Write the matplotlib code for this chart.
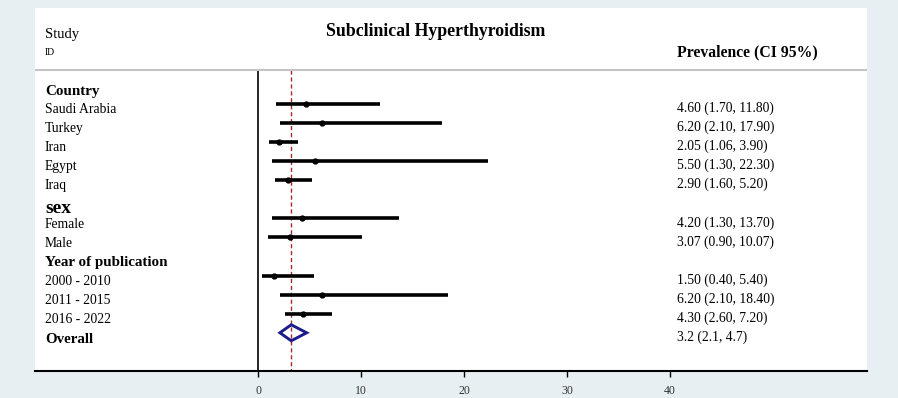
import matplotlib.pyplot as plt
from matplotlib.transforms import blended_transform_factory
from matplotlib.patches import Polygon

# subgroups and prevalence (CI 95%)
country = ['Saudi Arabia', 'Turkey', 'Iran', 'Egypt', 'Iraq']
country_est = [4.60, 6.20, 2.05, 5.50, 2.90]
country_lo = [1.70, 2.10, 1.06, 1.30, 1.60]
country_hi = [11.80, 17.90, 3.90, 22.30, 5.20]

sex = ['Female', 'Male']
sex_est = [4.20, 3.07]
sex_lo = [1.30, 0.90]
sex_hi = [13.70, 10.07]

year = ['2000 - 2010', '2011 - 2015', '2016 - 2022']
year_est = [1.50, 6.20, 4.30]
year_lo = [0.40, 2.10, 2.60]
year_hi = [5.40, 18.40, 7.20]

overall_est = 3.2
overall_lo = 2.1
overall_hi = 4.7

xticks = [0, 10, 20, 30, 40]

plt.rcParams['font.family'] = ['Liberation Serif', 'DejaVu Serif']

bg = '#e8eff2'
fig = plt.figure(figsize=(8.98, 3.98), dpi=100, facecolor=bg)
# white panel: x 35..867 px, y 8..371 px
ax = fig.add_axes([35/898, 1 - 371/398, 832/898, 363/398])
ax.set_facecolor('white')

px_per_unit = 10.29
ax.set_xlim((35 - 258.3) / px_per_unit, (867 - 258.3) / px_per_unit)
row_px = 19.06
ax.set_ylim((371 - 85) / row_px, (8 - 85) / row_px)

tr = blended_transform_factory(ax.transAxes, ax.transData)
xl = 10 / 832    # left label column
xr = 642 / 832   # right estimate column

def study_row(y, name, est, lo, hi):
    ax.plot([lo, hi], [y, y], color='black', lw=2.6, solid_capstyle='butt', zorder=3)
    ax.plot(est, y, marker='o', ms=3.5, color='black', zorder=4)
    ax.text(xl, y + 0.48, name, transform=tr, fontsize=9.8, va='baseline')
    ax.text(xr, y + 0.42, '%.2f (%.2f, %.2f)' % (est, lo, hi), transform=tr,
            fontsize=9.8, va='baseline')

def header(y, name, size=10.8):
    ax.text(xl, y, name, transform=tr, fontsize=size, fontweight='bold', va='baseline')

# Country
header(0.52, 'Country')
for i in range(len(country)):
    study_row(1 + i, country[i], country_est[i], country_lo[i], country_hi[i])

# sex
header(6.74, 'sex', size=14)
for i in range(len(sex)):
    study_row(7 + i, sex[i], sex_est[i], sex_lo[i], sex_hi[i])

# year
header(9.52, 'Year of publication')
for i in range(len(year)):
    study_row(10 + i, year[i], year_est[i], year_lo[i], year_hi[i])

# overall
yo = 13
diamond = Polygon([[overall_lo, yo], [overall_est, yo - 0.42],
                   [overall_hi, yo], [overall_est, yo + 0.42]],
                  closed=True, fill=False, edgecolor='#1c1c8a', lw=2.1, zorder=4)
ax.add_patch(diamond)
header(yo + 0.52, 'Overall')
ax.text(xr, yo + 0.42, '%.1f (%.1f, %.1f)' % (overall_est, overall_lo, overall_hi),
        transform=tr, fontsize=9.8, va='baseline')

# null line and pooled line
y_head = (70 - 85) / row_px
ax.plot([0, 0], [y_head, 15.1], color='black', lw=1.2, zorder=2)
ax.plot([overall_est, overall_est], [y_head, 15.1], color='#a52a2a', lw=1.0,
        ls=(0, (3, 2)), zorder=2)

# header
ax.axhline(y_head, color='#c4c4c4', lw=1.5)
ax.text(xl, (38.3 - 85) / row_px, 'Study', transform=tr, fontsize=10.5, va='baseline')
ax.text(xl, (55 - 85) / row_px, 'ID', transform=tr, fontsize=7, va='baseline')
ax.text(401 / 832, (36 - 85) / row_px, 'Subclinical Hyperthyroidism', transform=tr,
        fontsize=12.8, fontweight='bold', ha='center', va='baseline')
ax.text(xr, (56.7 - 85) / row_px, 'Prevalence (CI 95%)', transform=tr,
        fontsize=11.3, fontweight='bold', va='baseline')

# axes
for s in ['top', 'left', 'right']:
    ax.spines[s].set_visible(False)
ax.spines['bottom'].set_linewidth(1.5)
ax.set_xticks(xticks)
ax.set_xticklabels([str(t) for t in xticks])
ax.tick_params(axis='x', length=4, width=1, pad=6, labelsize=8.5, labelcolor='#333333')
ax.set_yticks([])

plt.savefig('out.png', dpi=100, facecolor=bg)
